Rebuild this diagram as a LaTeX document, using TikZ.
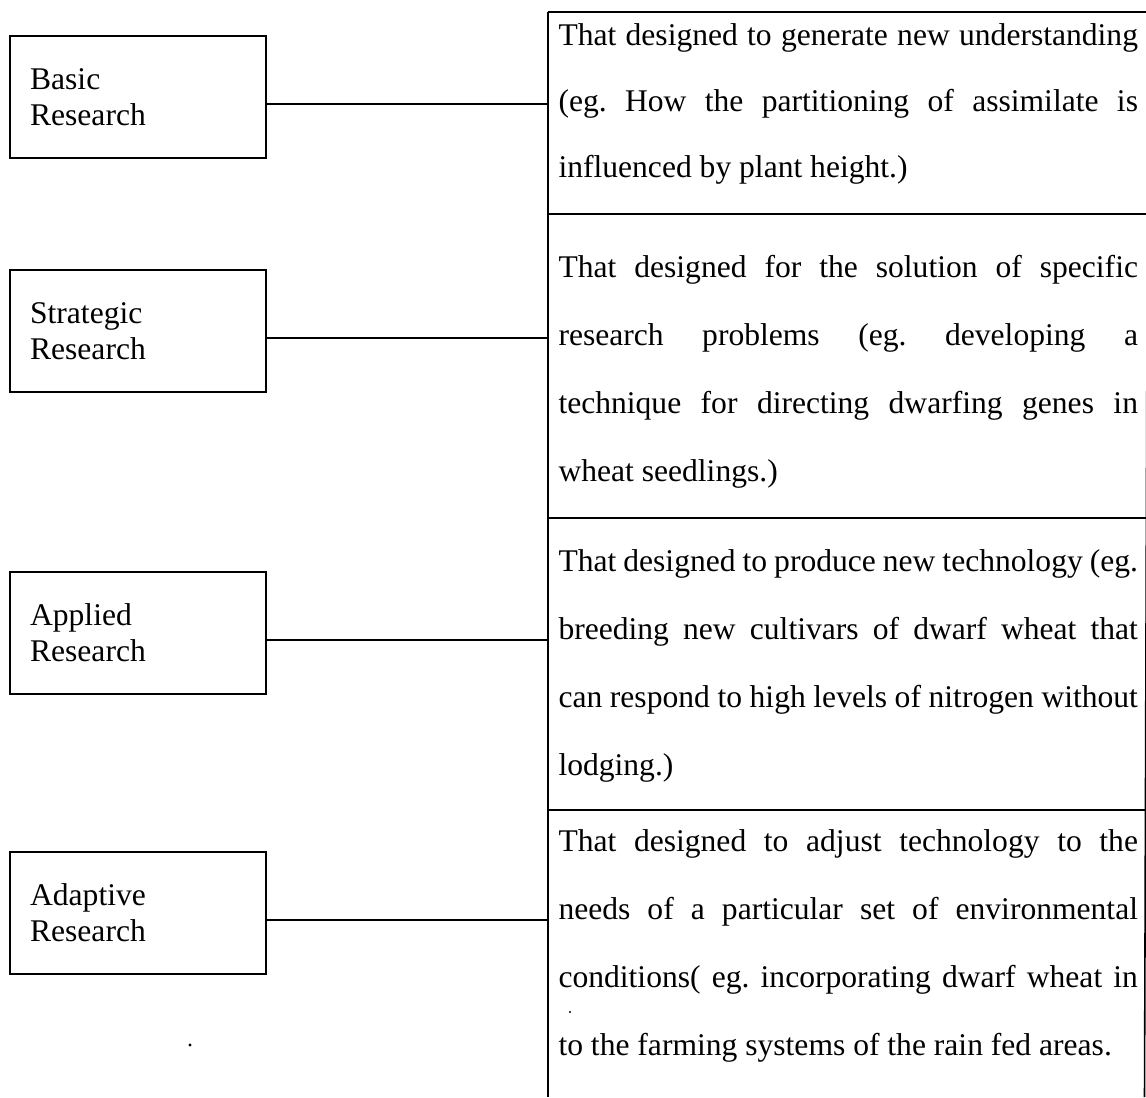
\documentclass[tikz,border=0pt]{standalone}
\usepackage{fontspec}
\setmainfont{Liberation Serif}
\frenchspacing

% width of one justified line in the right column
\newlength\colw
\setlength\colw{220.2pt}

\tikzset{
    kind/.style={draw, line width=0.6pt, rectangle, minimum width=97.3pt,
        minimum height=46.4pt, align=left, text width=82pt, inner xsep=7.6pt,
        font=\fontsize{12}{13.8}\selectfont},
    cellline/.style={inner sep=0pt, anchor=base west,
        font=\fontsize{12}{13.8}\selectfont},
    rule/.style={line width=0.6pt}
}

\begin{document}
\begin{tikzpicture}[x=0.38pt, y=-0.38pt]

    % frame of the picture, one unit is one pixel of the page
    \useasboundingbox (0,0) rectangle (1146,1097);

    % points on the left side of the table where the lines end
    \coordinate (t1) at (548, 104);
    \coordinate (t2) at (548, 338);
    \coordinate (t3) at (548, 640);
    \coordinate (t4) at (548, 920);

    % the four kinds of research on the left
    \node[kind] (basic) at (138, 97) {Basic\\Research};
    \node[kind] (strategic) at (138, 331) {Strategic\\Research};
    \node[kind] (applied) at (138, 633) {Applied\\Research};
    \node[kind] (adaptive) at (138, 913) {Adaptive\\Research};

    % the table on the right: outer lines and row rules
    \draw[rule] (548,12) -- (1146,12);
    \draw[rule] (548,214) -- (1146,214);
    \draw[rule] (548,518) -- (1146,518);
    \draw[rule] (548,810) -- (1146,810);
    \draw[rule] (548,12) -- (548,1097);
    \draw[rule] (1148,12) -- (1144.5,1097);

    % lines from each box to its row
    \draw[rule] (t1 -| basic.east) -- (t1);
    \draw[rule] (t2 -| strategic.east) -- (t2);
    \draw[rule] (t3 -| applied.east) -- (t3);
    \draw[rule] (t4 -| adaptive.east) -- (t4);

    % row 1
    \node[cellline] (a1) at (558, 45) {\makebox[\colw][s]{That designed to generate new understanding}};
    \node[cellline] (a2) at (558, 111) {\makebox[\colw][s]{(eg. How the partitioning of assimilate is}};
    \node[cellline] (a3) at (558, 177) {influenced by plant height.)};

    % row 2
    \node[cellline] (b1) at (558, 277) {\makebox[\colw][s]{That designed for the solution of specific}};
    \node[cellline] (b2) at (558, 345) {\makebox[\colw][s]{research problems (eg. developing a}};
    \node[cellline] (b3) at (558, 413) {\makebox[\colw][s]{technique for directing dwarfing genes in}};
    \node[cellline] (b4) at (558, 481) {wheat seedlings.)};

    % row 3
    \node[cellline] (c1) at (558, 571) {\makebox[\colw][s]{That designed to produce new technology (eg.}};
    \node[cellline] (c2) at (558, 639) {\makebox[\colw][s]{breeding new cultivars of dwarf wheat that}};
    \node[cellline] (c3) at (558, 707) {\makebox[\colw][s]{can respond to high levels of nitrogen without}};
    \node[cellline] (c4) at (558, 775) {lodging.)};

    % row 4
    \node[cellline] (d1) at (558, 851) {\makebox[\colw][s]{That designed to adjust technology to the}};
    \node[cellline] (d2) at (558, 919) {\makebox[\colw][s]{needs of a particular set of environmental}};
    \node[cellline] (d3) at (558, 987) {\makebox[\colw][s]{conditions( eg. incorporating dwarf wheat in}};
    \node[cellline] (d4) at (558, 1055) {to the farming systems of the rain fed areas.};

    % two specks of the scan
    \fill (190, 1045) circle (1.6);
    \fill (570, 1012) circle (1.2);

\end{tikzpicture}
\end{document}
